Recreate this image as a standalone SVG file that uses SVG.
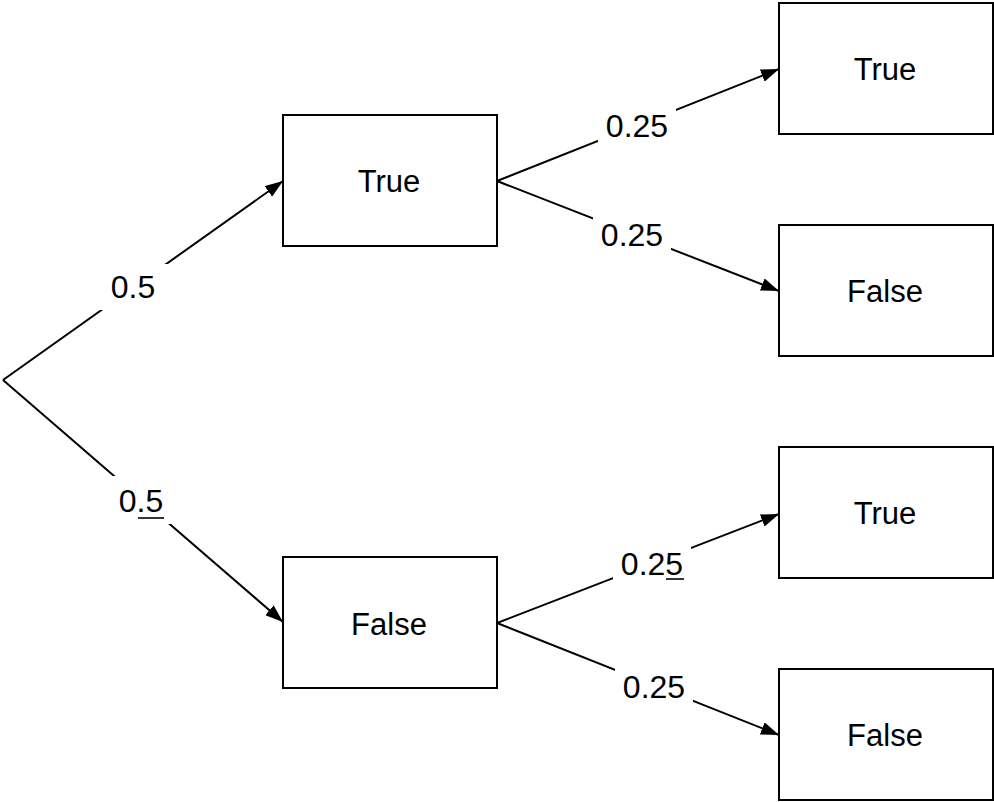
<svg xmlns="http://www.w3.org/2000/svg" width="994" height="802" viewBox="0 0 994 802">
<style>
.box{fill:#fff;stroke:#000;stroke-width:2}
.edge{fill:none;stroke:#000;stroke-width:2}
.t{font-family:"Liberation Sans",Arial,Helvetica,sans-serif;font-size:31px;fill:#000;text-anchor:middle}
.l{font-family:"Liberation Sans",Arial,Helvetica,sans-serif;font-size:32px;fill:#000;text-anchor:middle}
.bg{fill:#fff;stroke:none}
.ul{stroke:#000;stroke-width:1.6}
</style>
<defs>
<marker id="arr" viewBox="0 0 18 13" refX="18" refY="6.5" markerWidth="18" markerHeight="13" markerUnits="userSpaceOnUse" orient="auto">
<path d="M0,0 L18,6.5 L0,13 z" fill="#000"/>
</marker>
</defs>
<rect width="994" height="802" fill="#fff"/>
<g id="connectors">
<line class="edge" x1="3" y1="380" x2="283" y2="181" marker-end="url(#arr)"/>
<line class="edge" x1="3" y1="380" x2="283" y2="622" marker-end="url(#arr)"/>
<line class="edge" x1="497" y1="181" x2="779" y2="69" marker-end="url(#arr)"/>
<line class="edge" x1="497" y1="181" x2="779" y2="291" marker-end="url(#arr)"/>
<line class="edge" x1="497" y1="623" x2="779" y2="514" marker-end="url(#arr)"/>
<line class="edge" x1="497" y1="623" x2="779" y2="735" marker-end="url(#arr)"/>
<g id="edge-labels">
<rect class="bg" x="100" y="264" width="68" height="46"/>
<text class="l" x="133" y="298">0.5</text>
<rect class="bg" x="106" y="476" width="70" height="48"/>
<text class="l" x="141" y="512">0.5</text>
<line class="ul" x1="138" y1="518" x2="164" y2="518"/>
<rect class="bg" x="598" y="106" width="78" height="40"/>
<text class="l" x="637" y="137">0.25</text>
<rect class="bg" x="593" y="215" width="78" height="40"/>
<text class="l" x="632" y="246">0.25</text>
<rect class="bg" x="613" y="544" width="78" height="42"/>
<text class="l" x="652" y="575">0.25</text>
<line class="ul" x1="666" y1="579" x2="684" y2="579"/>
<rect class="bg" x="615" y="667" width="78" height="40"/>
<text class="l" x="654" y="698">0.25</text>
</g>
</g>
<g id="root-true">
<rect class="box" x="283" y="115" width="214" height="131"/>
<text class="t" x="389" y="192">True</text>
</g>
<g id="root-false">
<rect class="box" x="283" y="557" width="214" height="131"/>
<text class="t" x="389" y="635">False</text>
</g>
<g id="tt">
<rect class="box" x="779" y="3" width="214" height="131"/>
<text class="t" x="885" y="80">True</text>
</g>
<g id="tf">
<rect class="box" x="779" y="225" width="214" height="131"/>
<text class="t" x="885" y="302">False</text>
</g>
<g id="ft">
<rect class="box" x="779" y="447" width="214" height="131"/>
<text class="t" x="885" y="524">True</text>
</g>
<g id="ff">
<rect class="box" x="779" y="669" width="214" height="131"/>
<text class="t" x="885" y="746">False</text>
</g>
</svg>
